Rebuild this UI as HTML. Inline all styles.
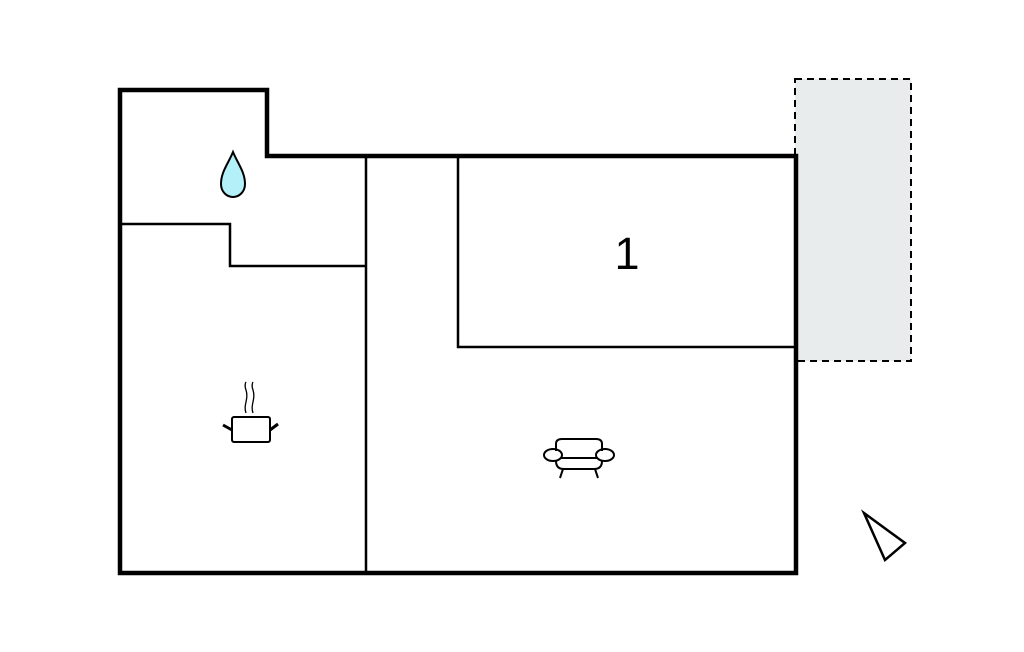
<!DOCTYPE html>
<html><head><style>html,body{margin:0;padding:0;background:#fff;}svg{display:block}</style></head>
<body>
<svg width="1024" height="652" viewBox="0 0 1024 652" xmlns="http://www.w3.org/2000/svg">
<rect x="795" y="79" width="116" height="282" fill="#e9ecec" stroke="#000" stroke-width="2" stroke-dasharray="7,5"/>
<g fill="none" stroke="#000" stroke-width="2.5">
<line x1="366" y1="156" x2="366" y2="573"/>
<polyline points="120,224 230,224 230,266 366,266"/>
<polyline points="458,156 458,347 796,347"/>
</g>
<polygon points="120,90 267,90 267,156 796,156 796,573 120,573" fill="none" stroke="#000" stroke-width="4.5"/>
<text x="627" y="269" font-family="Liberation Sans, sans-serif" font-size="45" text-anchor="middle">1</text>
<path d="M233,152 C228,164 221,172 221,184 C221,192 227,197 233,197 C239,197 245,192 245,184 C245,172 238,164 233,152 Z" fill="#b3f0f8" stroke="#000" stroke-width="2"/>
<polygon points="864,513 905,543 885,560" fill="#fff" stroke="#000" stroke-width="2.5"/>
<g fill="none" stroke="#000" stroke-width="2">
<rect x="232" y="417" width="38" height="25" rx="2"/>
<line x1="223" y1="425" x2="232" y2="430" stroke-width="3"/>
<line x1="270" y1="430" x2="278" y2="424" stroke-width="3"/>
<path d="M246,413 C243,405 249,399 246,390 C244,385 246,382 246,382" stroke-width="1.3"/>
<path d="M253,413 C250,405 256,399 253,390 C251,385 253,382 253,382" stroke-width="1.3"/>
<path d="M556,451 L556,444 Q556,439 562,439 L596,439 Q602,439 602,444 L602,451"/>
<ellipse cx="553" cy="455" rx="9" ry="6"/>
<ellipse cx="605" cy="455" rx="9" ry="6"/>
<line x1="561" y1="458" x2="597" y2="458"/>
<path d="M556,461 Q556,469 564,469 L594,469 Q602,469 602,461"/>
<line x1="563" y1="469" x2="560" y2="478"/>
<line x1="595" y1="469" x2="598" y2="478"/>
</g>
</svg>
</body></html>
